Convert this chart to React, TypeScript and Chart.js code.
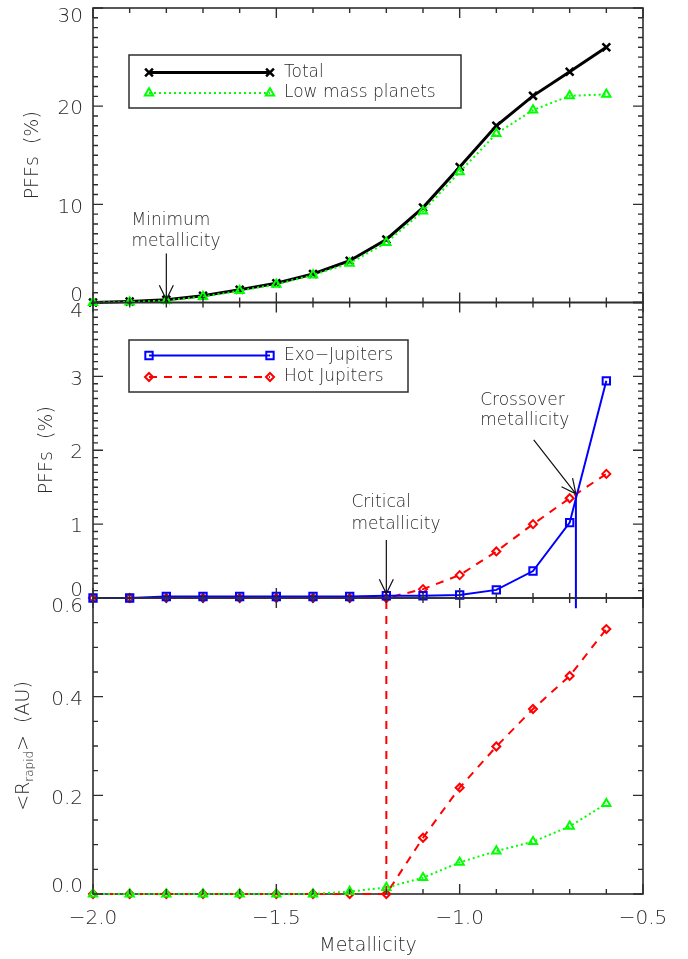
import React, { useEffect, useRef } from 'react';
import { Chart, registerables } from 'chart.js';
import { drawPoint } from 'chart.js/helpers';

Chart.register(...registerables);

// ---------------- data ----------------
const metallicity = [-2.0, -1.9, -1.8, -1.7, -1.6, -1.5, -1.4, -1.3, -1.2, -1.1, -1.0, -0.9, -0.8, -0.7, -0.6];

// Panel 1: planet formation frequencies (%)
const pffTotal = [0, 0.1, 0.27, 0.68, 1.29, 1.97, 2.9, 4.26, 6.42, 9.67, 13.8, 18.0, 21.05, 23.5, 26.0];
const pffLowMass = [0, 0.05, 0.2, 0.6, 1.2, 1.85, 2.8, 4.0, 6.1, 9.3, 13.3, 17.2, 19.6, 21.05, 21.2];

// Panel 2: planet formation frequencies (%)
const pffExoJupiters = [0, 0, 0.02, 0.02, 0.02, 0.02, 0.02, 0.02, 0.03, 0.03, 0.04, 0.11, 0.365, 1.02, 2.94];
const pffHotJupiters = [0, 0, 0, 0, 0, 0, 0, 0, 0, 0.12, 0.31, 0.63, 1.0, 1.35, 1.68];

// Panel 3: <R_rapid> (AU)
const rRapidHotJupiters = [0, 0, 0, 0, 0, 0, 0, 0, 0, 0.114, 0.2155, 0.299, 0.375, 0.442, 0.537];
const rRapidLowMass = [0, 0, 0, 0, 0, 0, 0, 0.005, 0.013, 0.033, 0.064, 0.087, 0.106, 0.137, 0.183];

// special metallicities
const minimumMetallicity = -1.8;
const criticalMetallicity = -1.2;
const crossoverMetallicity = -0.683;
const crossoverPff = 1.41;

// axes / ticks
const X_MIN = -2.0;
const X_MAX = -0.5;
const xTickValues = [-2.0, -1.5, -1.0, -0.5];
const xTickLabels = ['\u22122.0', '\u22121.5', '\u22121.0', '\u22120.5'];
const pffTopTicks = [0, 10, 20, 30];
const pffTopTickLabels = ['0', '10', '20', '30'];
const pffMidTicks = [0, 1, 2, 3, 4];
const pffMidTickLabels = ['0', '1', '2', '3', '4'];
const rRapidTicks = [0, 0.2, 0.4, 0.6];
const rRapidTickLabels = ['0.0', '0.2', '0.4', '0.6'];

// ---------------- styling ----------------
const W = 688;
const H = 959;
const PLOT_LEFT = 93;
const PLOT_RIGHT = 643;
const FONT_FAMILY = '"DejaVu Sans", "Liberation Sans", sans-serif';
const FONT_WEIGHT = '200';
const TEXT_COLOR = '#2b2b2b';
const AXIS_COLOR = '#2e2e2e';
const GREEN = '#00ff00';
const BLUE = '#0000ff';
const RED = '#ff0000';
const BLACK = '#000000';
const CLEAR = 'rgba(0,0,0,0)';

const font = (size: number) => `${FONT_WEIGHT} ${size}px ${FONT_FAMILY}`;

const toXY = (ys: number[]) => metallicity.map((x, i) => ({ x, y: ys[i] }));

type SeriesStyle = {
  label: string;
  color: string;
  width: number;
  dash: number[];
  pointStyle: string;
  radius: number;
  pointBorder: number;
};

const TOTAL_STYLE: SeriesStyle = { label: 'Total', color: BLACK, width: 3, dash: [], pointStyle: 'crossRot', radius: 5.5, pointBorder: 2.5 };
const LOWMASS_STYLE: SeriesStyle = { label: 'Low mass planets', color: GREEN, width: 2, dash: [2, 3], pointStyle: 'triangle', radius: 4.8, pointBorder: 2 };
const EXO_STYLE: SeriesStyle = { label: 'Exo\u2212Jupiters', color: BLUE, width: 2, dash: [], pointStyle: 'rect', radius: 5.2, pointBorder: 2 };
const HOT_STYLE: SeriesStyle = { label: 'Hot Jupiters', color: RED, width: 2, dash: [8, 7], pointStyle: 'rectRot', radius: 4, pointBorder: 2 };

function seriesDataset(style: SeriesStyle, ys: number[]) {
  return {
    label: style.label,
    data: toXY(ys),
    borderColor: style.color,
    borderWidth: style.width,
    borderDash: style.dash,
    pointStyle: style.pointStyle,
    pointRadius: style.radius,
    pointBorderWidth: style.pointBorder,
    pointBorderColor: style.color,
    pointBackgroundColor: CLEAR,
    fill: false,
    tension: 0,
    clip: false,
  };
}

function guideDataset(color: string, dash: number[], pts: { x: number; y: number }[]) {
  return {
    label: '',
    data: pts,
    borderColor: color,
    borderWidth: 2,
    borderDash: dash,
    pointRadius: 0,
    fill: false,
    tension: 0,
    clip: false,
  };
}

type Annotation = {
  texts: { x: number; y: number; text: string }[];
  arrows: { x1: number; y1: number; x2: number; y2: number }[];
};

type LegendSpec = {
  box: [number, number, number, number];
  rows: number[];
  sx1: number;
  sx2: number;
  tx: number;
  items: SeriesStyle[];
};

type PanelSpec = {
  top: number;
  bottom: number;
  yMin: number;
  yMax: number;
  yMinorStep: number;
  yMinorPerMajor: number;
  yTicks: number[];
  yTickLabels: string[];
  yTitle: { x: number; parts: { text: string; size: number; dy: number }[] };
  showXLabels: boolean;
  datasets: any[];
  legend?: LegendSpec;
  annotation?: Annotation;
};

const PANELS: PanelSpec[] = [
  {
    top: 7,
    bottom: 302.5,
    yMin: 0,
    yMax: 30,
    yMinorStep: 1,
    yMinorPerMajor: 10,
    yTicks: pffTopTicks,
    yTickLabels: pffTopTickLabels,
    yTitle: { x: 33, parts: [{ text: 'PFFs  (%)', size: 19, dy: 0 }] },
    showXLabels: false,
    datasets: [seriesDataset(LOWMASS_STYLE, pffLowMass), seriesDataset(TOTAL_STYLE, pffTotal)],
    legend: { box: [129, 55, 461, 108], rows: [72.5, 93], sx1: 149, sx2: 270, tx: 284, items: [TOTAL_STYLE, LOWMASS_STYLE] },
    annotation: {
      texts: [
        { x: -1.895, y: 8.38, text: 'Minimum' },
        { x: -1.895, y: 6.2, text: 'metallicity' },
      ],
      arrows: [{ x1: minimumMetallicity, y1: 5.0, x2: minimumMetallicity, y2: 0.3 }],
    },
  },
  {
    top: 302.5,
    bottom: 598,
    yMin: 0,
    yMax: 4,
    yMinorStep: 0.1,
    yMinorPerMajor: 10,
    yTicks: pffMidTicks,
    yTickLabels: pffMidTickLabels,
    yTitle: { x: 47, parts: [{ text: 'PFFs  (%)', size: 19, dy: 0 }] },
    showXLabels: false,
    datasets: [
      seriesDataset(EXO_STYLE, pffExoJupiters),
      seriesDataset(HOT_STYLE, pffHotJupiters),
      guideDataset(BLUE, [], [
        { x: crossoverMetallicity, y: crossoverPff },
        { x: crossoverMetallicity, y: -0.14 },
      ]),
    ],
    legend: { box: [129, 340, 408, 392], rows: [355.5, 377], sx1: 149, sx2: 270, tx: 284, items: [EXO_STYLE, HOT_STYLE] },
    annotation: {
      texts: [
        { x: -1.295, y: 1.285, text: 'Critical' },
        { x: -1.295, y: 1.0, text: 'metallicity' },
        { x: -0.944, y: 2.67, text: 'Crossover' },
        { x: -0.944, y: 2.4, text: 'metallicity' },
      ],
      arrows: [
        { x1: criticalMetallicity, y1: 0.785, x2: criticalMetallicity, y2: 0.06 },
        { x1: -0.798, y1: 2.14, x2: crossoverMetallicity, y2: crossoverPff },
      ],
    },
  },
  {
    top: 598,
    bottom: 894,
    yMin: 0,
    yMax: 0.6,
    yMinorStep: 0.05,
    yMinorPerMajor: 4,
    yTicks: rRapidTicks,
    yTickLabels: rRapidTickLabels,
    yTitle: {
      x: 24,
      parts: [
        { text: '<R', size: 19, dy: 0 },
        { text: 'rapid', size: 12, dy: 6 },
        { text: '>  (AU)', size: 19, dy: 0 },
      ],
    },
    showXLabels: true,
    datasets: [
      seriesDataset(LOWMASS_STYLE, rRapidLowMass),
      seriesDataset(HOT_STYLE, rRapidHotJupiters),
      guideDataset(RED, [8, 7], [
        { x: criticalMetallicity, y: 0 },
        { x: criticalMetallicity, y: 0.6 },
      ]),
    ],
  },
];

// ---------------- drawing helpers ----------------
function drawArrow(ctx: CanvasRenderingContext2D, x1: number, y1: number, x2: number, y2: number) {
  const ang = Math.atan2(y2 - y1, x2 - x1);
  const head = 16;
  const spread = (26 * Math.PI) / 180;
  ctx.beginPath();
  ctx.moveTo(x1, y1);
  ctx.lineTo(x2, y2);
  ctx.moveTo(x2 - head * Math.cos(ang - spread), y2 - head * Math.sin(ang - spread));
  ctx.lineTo(x2, y2);
  ctx.lineTo(x2 - head * Math.cos(ang + spread), y2 - head * Math.sin(ang + spread));
  ctx.stroke();
}

function drawLegend(ctx: CanvasRenderingContext2D, lg: LegendSpec) {
  ctx.save();
  const [x1, y1, x2, y2] = lg.box;
  ctx.fillStyle = '#ffffff';
  ctx.fillRect(x1, y1, x2 - x1, y2 - y1);
  ctx.strokeStyle = AXIS_COLOR;
  ctx.lineWidth = 1.5;
  ctx.strokeRect(x1, y1, x2 - x1, y2 - y1);
  lg.items.forEach((it, i) => {
    const y = lg.rows[i];
    ctx.strokeStyle = it.color;
    ctx.lineWidth = it.width;
    ctx.setLineDash(it.dash);
    ctx.beginPath();
    ctx.moveTo(lg.sx1, y);
    ctx.lineTo(lg.sx2, y);
    ctx.stroke();
    ctx.setLineDash([]);
    ctx.lineWidth = it.pointBorder;
    ctx.fillStyle = CLEAR;
    const opts: any = { pointStyle: it.pointStyle, radius: it.radius, rotation: 0, borderWidth: it.pointBorder };
    drawPoint(ctx, opts, lg.sx1, y);
    drawPoint(ctx, opts, lg.sx2, y);
    ctx.fillStyle = TEXT_COLOR;
    ctx.font = font(17);
    ctx.textAlign = 'left';
    ctx.textBaseline = 'middle';
    ctx.fillText(it.label, lg.tx, y);
  });
  ctx.restore();
}

function makePlugin(spec: PanelSpec) {
  return {
    id: 'idlPanel',
    beforeDatasetsDraw(chart: any) {
      const { ctx, chartArea: a } = chart;
      ctx.save();
      ctx.strokeStyle = AXIS_COLOR;
      ctx.lineWidth = 1.6;
      ctx.strokeRect(a.left, a.top, a.right - a.left, a.bottom - a.top);
      ctx.restore();
    },
    afterDraw(chart: any) {
      const { ctx, chartArea: a, scales } = chart;
      const xs = scales.x;
      const ys = scales.y;
      ctx.save();
      ctx.strokeStyle = AXIS_COLOR;
      ctx.lineWidth = 1.4;
      // x ticks (bottom and top, pointing inward)
      const nx = Math.round((X_MAX - X_MIN) / 0.1);
      ctx.beginPath();
      for (let k = 0; k <= nx; k++) {
        const px = xs.getPixelForValue(X_MIN + k * 0.1);
        const len = k % 5 === 0 ? 10 : 5;
        ctx.moveTo(px, a.bottom);
        ctx.lineTo(px, a.bottom - len);
        ctx.moveTo(px, a.top);
        ctx.lineTo(px, a.top + len);
      }
      // y ticks (left and right, pointing inward)
      const ny = Math.round((spec.yMax - spec.yMin) / spec.yMinorStep);
      for (let k = 0; k <= ny; k++) {
        const py = ys.getPixelForValue(spec.yMin + k * spec.yMinorStep);
        const len = k % spec.yMinorPerMajor === 0 ? 10 : 5;
        ctx.moveTo(a.left, py);
        ctx.lineTo(a.left + len, py);
        ctx.moveTo(a.right, py);
        ctx.lineTo(a.right - len, py);
      }
      ctx.stroke();

      // y tick labels
      ctx.fillStyle = TEXT_COLOR;
      ctx.font = font(20);
      ctx.textAlign = 'right';
      ctx.textBaseline = 'middle';
      const last = spec.yTicks.length - 1;
      spec.yTicks.forEach((v, i) => {
        const off = i === 0 ? -7 : i === last ? 9 : 3;
        ctx.fillText(spec.yTickLabels[i], a.left - 10, ys.getPixelForValue(v) + off);
      });

      // x tick labels + title
      if (spec.showXLabels) {
        ctx.textAlign = 'center';
        xTickValues.forEach((v, i) => {
          ctx.fillText(xTickLabels[i], xs.getPixelForValue(v), a.bottom + 25);
        });
        ctx.font = font(19);
        ctx.fillText('Metallicity', (a.left + a.right) / 2, a.bottom + 52);
      }

      // y title (rotated)
      ctx.save();
      const cy = (a.top + a.bottom) / 2;
      ctx.translate(spec.yTitle.x, cy);
      ctx.rotate(-Math.PI / 2);
      let total = 0;
      spec.yTitle.parts.forEach((p) => {
        ctx.font = font(p.size);
        total += ctx.measureText(p.text).width;
      });
      let cx = -total / 2;
      ctx.textAlign = 'left';
      ctx.textBaseline = 'middle';
      spec.yTitle.parts.forEach((p) => {
        ctx.font = font(p.size);
        ctx.fillText(p.text, cx, p.dy);
        cx += ctx.measureText(p.text).width;
      });
      ctx.restore();

      // annotations
      if (spec.annotation) {
        ctx.font = font(17);
        ctx.textAlign = 'left';
        ctx.textBaseline = 'middle';
        ctx.fillStyle = TEXT_COLOR;
        spec.annotation.texts.forEach((t) => {
          ctx.fillText(t.text, xs.getPixelForValue(t.x), ys.getPixelForValue(t.y));
        });
        ctx.strokeStyle = '#111';
        ctx.lineWidth = 1.2;
        spec.annotation.arrows.forEach((ar) => {
          drawArrow(
            ctx,
            xs.getPixelForValue(ar.x1),
            ys.getPixelForValue(ar.y1),
            xs.getPixelForValue(ar.x2),
            ys.getPixelForValue(ar.y2)
          );
        });
      }

      if (spec.legend) drawLegend(ctx, spec.legend);
      ctx.restore();
    },
  };
}

function Panel({ spec }: { spec: PanelSpec }) {
  const ref = useRef<HTMLCanvasElement | null>(null);
  useEffect(() => {
    if (!ref.current) return;
    const chart = new Chart(ref.current, {
      type: 'line',
      data: { datasets: spec.datasets },
      options: {
        responsive: false,
        animation: false,
        devicePixelRatio: 1,
        layout: {
          padding: { left: PLOT_LEFT, right: W - PLOT_RIGHT, top: spec.top, bottom: H - spec.bottom },
        },
        scales: {
          x: { type: 'linear', min: X_MIN, max: X_MAX, display: false },
          y: { type: 'linear', min: spec.yMin, max: spec.yMax, display: false },
        },
        plugins: { legend: { display: false }, tooltip: { enabled: false } },
        events: [],
      } as any,
      plugins: [makePlugin(spec)],
    });
    return () => chart.destroy();
  }, [spec]);
  return (
    <canvas
      ref={ref}
      width={W}
      height={H}
      style={{ position: 'absolute', left: 0, top: 0, width: W, height: H }}
    />
  );
}

export default function App() {
  return (
    <div style={{ position: 'fixed', left: 0, top: 0, width: W, height: H, background: '#ffffff' }}>
      {PANELS.map((p, i) => (
        <Panel key={i} spec={p} />
      ))}
    </div>
  );
}
